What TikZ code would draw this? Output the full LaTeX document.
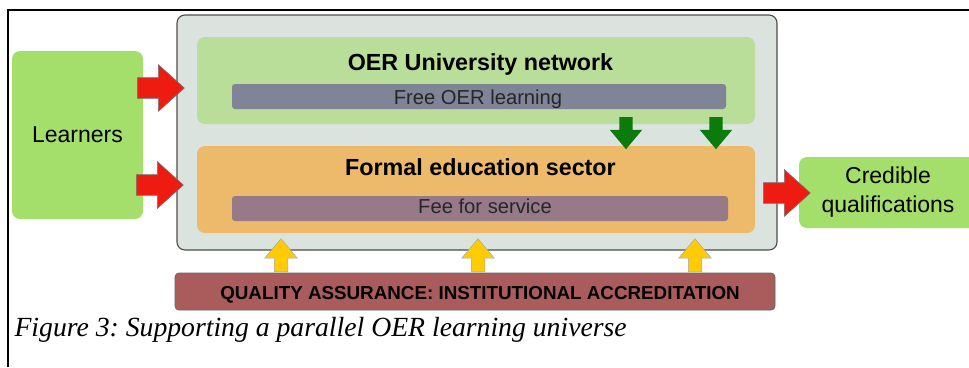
\documentclass[tikz,border=0pt]{standalone}
\usepackage{fontspec}
\setmainfont{Liberation Sans}
\newfontfamily\captionfont{Liberation Serif}
\usetikzlibrary{shapes.arrows,positioning}
\frenchspacing

\definecolor{unigrey}{HTML}{DBE3DF}
\definecolor{netgreen}{HTML}{B8DE9A}
\definecolor{freebar}{HTML}{7F8496}
\definecolor{formalorange}{HTML}{EDBA6B}
\definecolor{feebar}{HTML}{967A87}
\definecolor{learngreen}{HTML}{A5DF6B}
\definecolor{arrowred}{HTML}{EE1B10}
\definecolor{arrowgreen}{HTML}{0B7B0B}
\definecolor{arrowyellow}{HTML}{FFCB05}
\definecolor{qared}{HTML}{AA5B5B}

\begin{document}
\begin{tikzpicture}[x=1pt,y=-1pt,
  panel/.style={rounded corners=8pt, inner sep=0pt},
  bar/.style={rounded corners=3pt, inner sep=0pt, minimum height=25pt},
  redarr/.style={single arrow, draw=black!55, line width=.6pt, fill=arrowred, inner sep=0pt, inner ysep=10pt,
    single arrow head extend=13pt, single arrow tip angle=84, minimum height=47pt, anchor=tail},
  greenarr/.style={single arrow, fill=arrowgreen, inner sep=0pt, inner xsep=6.5pt,
    single arrow head extend=9.5pt, single arrow tip angle=80, minimum height=32pt, shape border rotate=270, anchor=tail},
  yellowarr/.style={single arrow, draw=black!35, line width=.5pt, fill=arrowyellow, inner sep=0pt, inner xsep=6.5pt,
    single arrow head extend=9.5pt, single arrow tip angle=80, minimum height=33pt, shape border rotate=90, anchor=tail}]

\useasboundingbox (0,0) rectangle (969,367);
\clip (0,0) rectangle (969,367);

% frame of the figure
\draw[line width=1.8pt] (8,367) -- (8,10) -- (969,10);

% the university box
\node[panel, draw=black!70, line width=1.1pt, fill=unigrey, minimum width=600pt, minimum height=235pt] (uni) at (477,132.5) {};

\node[panel, fill=netgreen, minimum width=558pt, minimum height=87pt] (net) at (476,80.5) {};
\node[anchor=base, font=\fontsize{23.3}{28}\selectfont\bfseries] (nettitle) at (480.5,70) {OER University network};
\node[bar, fill=freebar, minimum width=494pt] (free) at (479,96.5) {};
\node[anchor=base, font=\fontsize{20.2}{24}\selectfont, text=black!85] (freetext) at (478,104) {Free OER learning};

\node[panel, fill=formalorange, minimum width=558pt, minimum height=87pt] (formal) at (476,189.5) {};
\node[anchor=base, font=\fontsize{23.3}{28}\selectfont\bfseries] (formaltitle) at (480.5,175) {Formal education sector};
\node[bar, fill=feebar, minimum width=496pt] (fee) at (480,208.5) {};
\node[anchor=base, font=\fontsize{20.2}{24}\selectfont, text=black!85] (feetext) at (485,213) {Fee for service};

% outside
\node[panel, fill=learngreen, minimum width=131pt, minimum height=168pt, font=\fontsize{23}{28}\selectfont] (learners) at (77.5,135) {Learners};
\node[panel, fill=learngreen, minimum width=178pt, minimum height=71pt, align=center, font=\fontsize{23}{29}\selectfont] (cred) at (888,192.5) {Credible\\qualifications};

\node[rounded corners=4pt, draw=black!60, line width=.8pt, fill=qared, minimum width=600pt, minimum height=37pt] (qa) at (475,291.5) {};
\node[anchor=base, font=\fontsize{18.8}{22}\selectfont\bfseries] (qatext) at (480,299) {QUALITY ASSURANCE: INSTITUTIONAL ACCREDITATION};

% arrows
\node[redarr] (in1) at (137,88) {};
\node[redarr] (in2) at (136,185) {};
\node[redarr] (out) at (763,193) {};

\node[greenarr] (down1) at (626,117) {};
\node[greenarr] (down2) at (716,117) {};

\node[yellowarr] (up1) at (281,272) {};
\node[yellowarr] (up2) at (478,272) {};
\node[yellowarr] (up3) at (695,272) {};

\node[anchor=base west, font=\captionfont\itshape\fontsize{27.7}{32}\selectfont] (caption) at (11,336) {Figure 3: Supporting a parallel OER learning universe};
\end{tikzpicture}
\end{document}
